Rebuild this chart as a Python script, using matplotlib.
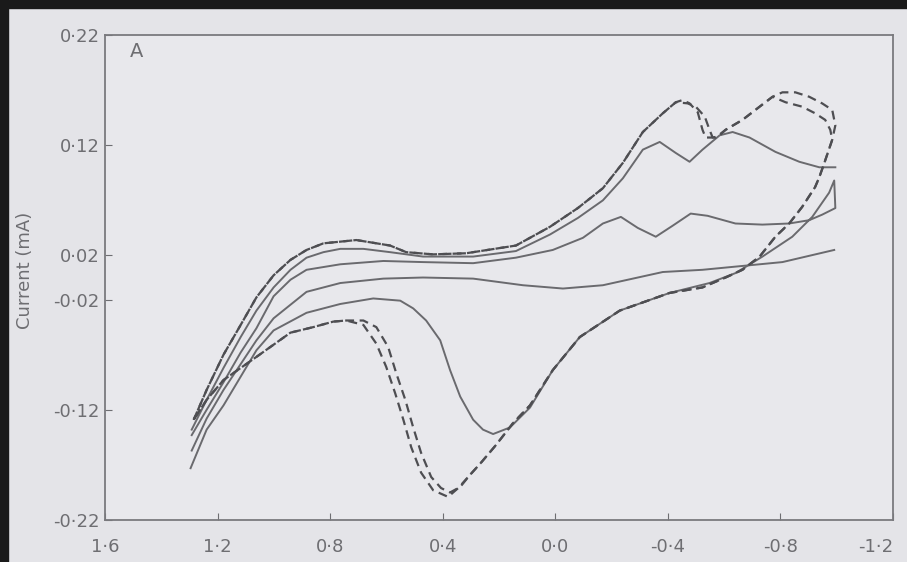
import matplotlib
matplotlib.use("Agg")
import matplotlib.pyplot as plt

# dashed cycles (two runs, nearly on top of each other)
d1_v = [1.285, 1.239, 1.179, 1.118, 1.062, 1.001, 0.941, 0.884, 0.824, 0.707,
        0.587, 0.530, 0.434, 0.317, 0.140, 0.019, -0.080, -0.169, -0.240, -0.311,
        -0.382, -0.428, -0.452, -0.477, -0.506, -0.523, -0.534, -0.570, -0.605, -0.665,
        -0.726, -0.772, -0.807, -0.853, -0.902, -0.948, -0.984, -0.995, -0.984, -0.956,
        -0.938, -0.923, -0.877, -0.831, -0.782, -0.726, -0.665, -0.605, -0.559, -0.523,
        -0.406, -0.229, -0.087, 0.009, 0.090, 0.150, 0.211, 0.264, 0.303, 0.345,
        0.381, 0.434, 0.477, 0.512, 0.540, 0.569, 0.601, 0.636, 0.682, 0.743,
        0.789, 0.860, 0.941, 1.062, 1.179, 1.239, 1.285]
d1_i = [-0.129, -0.102, -0.070, -0.043, -0.018, 0.002, 0.016, 0.025, 0.031, 0.034,
        0.029, 0.023, 0.021, 0.022, 0.029, 0.046, 0.063, 0.081, 0.104, 0.132,
        0.149, 0.159, 0.161, 0.158, 0.150, 0.134, 0.127, 0.127, 0.134, 0.143,
        0.155, 0.164, 0.168, 0.168, 0.164, 0.158, 0.152, 0.138, 0.125, 0.104,
        0.091, 0.082, 0.064, 0.049, 0.037, 0.019, 0.007, 0.000, -0.005, -0.009,
        -0.014, -0.030, -0.054, -0.084, -0.116, -0.132, -0.152, -0.168, -0.179, -0.191,
        -0.199, -0.193, -0.177, -0.154, -0.129, -0.105, -0.081, -0.060, -0.043, -0.039,
        -0.040, -0.045, -0.050, -0.072, -0.093, -0.111, -0.129]

d2_v = [1.285, 1.239, 1.179, 1.118, 1.062, 1.001, 0.941, 0.884, 0.824, 0.707,
        0.587, 0.530, 0.434, 0.317, 0.140, 0.019, -0.080, -0.169, -0.240, -0.311,
        -0.382, -0.428, -0.470, -0.499, -0.531, -0.548, -0.559, -0.580, -0.605, -0.665,
        -0.726, -0.772, -0.818, -0.877, -0.923, -0.959, -0.977, -0.984, -0.956,
        -0.938, -0.923, -0.877, -0.831, -0.782, -0.726, -0.665, -0.605, -0.559, -0.523,
        -0.406, -0.229, -0.087, 0.009, 0.090, 0.150, 0.211, 0.264, 0.303, 0.338,
        0.374, 0.406, 0.441, 0.477, 0.505, 0.533, 0.565, 0.594, 0.636, 0.682, 0.743,
        0.789, 0.860, 0.941, 1.062, 1.179, 1.239, 1.285]
d2_i = [-0.129, -0.102, -0.070, -0.043, -0.018, 0.002, 0.016, 0.025, 0.031, 0.034,
        0.029, 0.023, 0.021, 0.022, 0.029, 0.046, 0.063, 0.081, 0.104, 0.132,
        0.149, 0.159, 0.158, 0.155, 0.146, 0.134, 0.127, 0.128, 0.134, 0.143,
        0.155, 0.164, 0.159, 0.155, 0.149, 0.143, 0.134, 0.125, 0.104,
        0.091, 0.082, 0.064, 0.049, 0.037, 0.019, 0.007, 0.000, -0.005, -0.009,
        -0.014, -0.030, -0.054, -0.084, -0.116, -0.132, -0.152, -0.168, -0.179, -0.190,
        -0.195, -0.191, -0.181, -0.159, -0.136, -0.111, -0.087, -0.063, -0.045, -0.039, -0.039,
        -0.040, -0.045, -0.050, -0.072, -0.093, -0.111, -0.129]

# upper solid trace with the two cathodic peaks
p_v = [1.292, 1.239, 1.179, 1.118, 1.062, 1.001, 0.941, 0.884, 0.824, 0.764,
       0.682, 0.587, 0.470, 0.292, 0.140, 0.019, -0.080, -0.169, -0.240, -0.311,
       -0.371, -0.428, -0.477, -0.523, -0.584, -0.630, -0.690, -0.782, -0.867, -0.938,
       -0.995]
p_i = [-0.138, -0.111, -0.082, -0.054, -0.030, -0.009, 0.007, 0.018, 0.023, 0.026,
       0.026, 0.023, 0.019, 0.019, 0.024, 0.039, 0.054, 0.070, 0.090, 0.116,
       0.123, 0.113, 0.105, 0.116, 0.129, 0.132, 0.127, 0.114, 0.105, 0.100,
       0.100]

# middle solid cycle (small peaks forward, big anodic peak on return)
c_v = [1.292, 1.239, 1.179, 1.118, 1.062, 1.001, 0.941, 0.884, 0.764, 0.611,
       0.470, 0.292, 0.140, 0.009, -0.098, -0.169, -0.233, -0.293, -0.357, -0.417,
       -0.481, -0.541, -0.640, -0.736, -0.831, -0.902, -0.948, -0.995, -0.991,
       -0.973, -0.913, -0.842, -0.736, -0.640, -0.548, -0.406, -0.229, -0.087, 0.009,
       0.090, 0.161, 0.221, 0.257, 0.292, 0.338, 0.374, 0.409, 0.459, 0.505,
       0.551, 0.647, 0.764, 0.884, 1.001, 1.062, 1.179, 1.239, 1.296]
c_i = [-0.143, -0.120, -0.095, -0.068, -0.046, -0.017, -0.002, 0.007, 0.012, 0.015,
       0.014, 0.013, 0.018, 0.025, 0.036, 0.049, 0.055, 0.045, 0.037, 0.047,
       0.058, 0.056, 0.049, 0.048, 0.049, 0.052, 0.057, 0.063, 0.088,
       0.077, 0.055, 0.037, 0.019, 0.004, -0.005, -0.014, -0.030, -0.054, -0.084,
       -0.118, -0.136, -0.142, -0.138, -0.129, -0.108, -0.084, -0.057, -0.039, -0.028,
       -0.021, -0.019, -0.024, -0.032, -0.048, -0.066, -0.116, -0.138, -0.173]

# flat background trace
t_v = [1.292, 1.239, 1.179, 1.062, 1.001, 0.884, 0.764, 0.611, 0.470, 0.292,
       0.115, -0.027, -0.169, -0.382, -0.523, -0.807, -0.991]
t_i = [-0.157, -0.128, -0.102, -0.057, -0.037, -0.013, -0.005, -0.001, 0.000, -0.001,
       -0.007, -0.010, -0.007, 0.005, 0.007, 0.014, 0.025]

x_ticks = [1.6, 1.2, 0.8, 0.4, 0.0, -0.4, -0.8, -1.2]
x_labels = ["1·6", "1·2", "0·8", "0·4", "0·0", "-0·4", "-0·8", "-1·2"]
y_ticks = [0.22, 0.12, 0.02, -0.02, -0.12, -0.22]
y_labels = ["0·22", "0·12", "0·02", "-0·02", "-0·12", "-0·22"]

txt = "#6e6e72"
line = "#6a6a6e"
dash = "#4e4e52"

fig = plt.figure(figsize=(9.07, 5.62), dpi=100, facecolor="#e4e4e8")
ax = fig.add_axes([0.1158, 0.0747, 0.8688, 0.863])
ax.set_facecolor("#e8e8ec")

ax.plot(t_v, t_i, color=line, lw=1.4)
ax.plot(c_v, c_i, color=line, lw=1.4)
ax.plot(p_v, p_i, color=line, lw=1.4)
ax.plot(d1_v, d1_i, color=dash, lw=1.6, ls=(0, (4, 2.5)))
ax.plot(d2_v, d2_i, color=dash, lw=1.6, ls=(2, (4, 2.5)))

ax.set_xlim(1.6, -1.2)
ax.set_ylim(-0.22, 0.22)
ax.set_xticks(x_ticks)
ax.set_xticklabels(x_labels)
ax.set_yticks(y_ticks)
ax.set_yticklabels(y_labels)
ax.tick_params(direction="in", length=5, color=txt, labelcolor=txt,
               labelsize=13)
ax.tick_params(axis="x", pad=13)
ax.tick_params(axis="y", pad=4)
xt = ax.get_xticklabels()
xt[0].set_x(1.628)
xt[-1].set_horizontalalignment("right")
for s in ax.spines.values():
    s.set_color("#7a7a7e")
    s.set_linewidth(1.3)

ax.set_ylabel("Current (mA)", color=txt, fontsize=13)
ax.yaxis.set_label_coords(-0.09, 0.515)
ax.text(0.032, 0.985, "A", transform=ax.transAxes, color=txt, fontsize=14,
        va="top")

# dark photo edge at left and top
fig.add_artist(plt.Rectangle((0, 0), 0.009, 1, transform=fig.transFigure,
                             color="#1a1a1a"))
fig.add_artist(plt.Rectangle((0, 0.985), 1, 0.015, transform=fig.transFigure,
                             color="#1a1a1a"))

fig.savefig("out.png", dpi=100, facecolor=fig.get_facecolor())
